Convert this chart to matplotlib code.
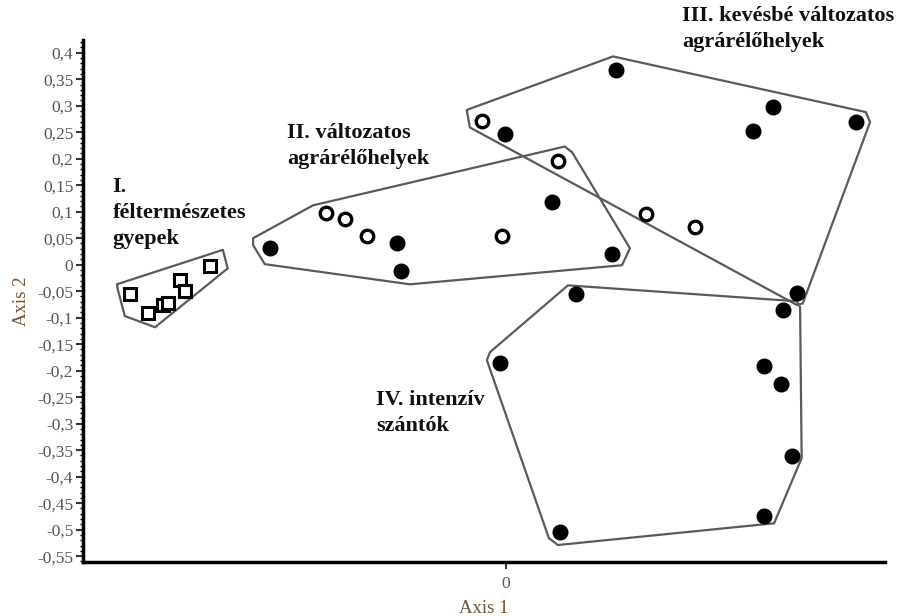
import numpy as np
import matplotlib
matplotlib.use("Agg")
import matplotlib.pyplot as plt
from matplotlib.ticker import MultipleLocator, FuncFormatter

# group I - squares
sq_x = [-0.709, -0.676, -0.647, -0.637, -0.615, -0.606, -0.558]
sq_y = [-0.056, -0.092, -0.077, -0.073, -0.029, -0.050, -0.002]

# open circles
oc_x = [-0.340, -0.304, -0.263, -0.008, 0.099, -0.046, 0.264, 0.357]
oc_y = [0.098, 0.087, 0.054, 0.054, 0.196, 0.272, 0.095, 0.071]

# filled circles
fc_x = [-0.445, -0.206, -0.198, 0.086, 0.201, -0.002, 0.208, 0.504, 0.467, 0.660,
        0.133, 0.550, 0.522, -0.011, 0.487, 0.519, 0.539, 0.487, 0.102]
fc_y = [0.031, 0.041, -0.012, 0.118, 0.021, 0.246, 0.367, 0.298, 0.252, 0.269,
        -0.056, -0.054, -0.085, -0.185, -0.191, -0.226, -0.361, -0.474, -0.505]

# group envelopes
hull1_x = [-0.734, -0.534, -0.525, -0.662, -0.719, -0.732]
hull1_y = [-0.037, 0.028, -0.007, -0.118, -0.097, -0.048]
hull2_x = [-0.477, -0.364, 0.111, 0.125, 0.234, 0.219, -0.181, -0.455, -0.477]
hull2_y = [0.050, 0.112, 0.223, 0.212, 0.031, -0.001, -0.037, 0.001, 0.037]
hull3_x = [-0.074, 0.202, 0.679, 0.687, 0.560, 0.549, -0.068]
hull3_y = [0.292, 0.393, 0.288, 0.269, -0.073, -0.076, 0.259]
hull4_x = [-0.030, 0.117, 0.549, 0.555, 0.558, 0.506, 0.098, 0.081, -0.036]
hull4_y = [-0.165, -0.039, -0.069, -0.080, -0.365, -0.488, -0.529, -0.516, -0.180]

group_labels = ["I.\nféltermészetes\ngyepek",
                "II. változatos\nagrárélőhelyek",
                "III. kevésbé változatos\nagrárélőhelyek",
                "IV. intenzív\nszántók"]
label_x = [-0.742, -0.413, 0.332, -0.245]
label_y = [0.166, 0.268, 0.489, -0.236]

fig = plt.figure(figsize=(8.99, 6.16), dpi=100)
ax = fig.add_axes([0.0923, 0.0877, 0.892, 0.847])

for hx, hy in [(hull1_x, hull1_y), (hull2_x, hull2_y), (hull3_x, hull3_y), (hull4_x, hull4_y)]:
    ax.fill(hx, hy, facecolor="none", edgecolor="#5a5a5a", linewidth=1.6, joinstyle="round")

ax.plot(sq_x, sq_y, "s", ms=8.5, mfc="white", mec="black", mew=2.2, ls="none")
ax.plot(oc_x, oc_y, "o", ms=9, mfc="white", mec="black", mew=2.4, ls="none")
ax.plot(fc_x, fc_y, "o", ms=10.5, mfc="black", mec="black", ls="none")

for t, x, y in zip(group_labels, label_x, label_y):
    ax.text(x, y, t, fontsize=16, fontweight="bold", family="Liberation Serif",
            va="top", ha="left", linespacing=1.42, color="#111111")

ax.set_xlim(-0.798, 0.715)
ax.set_ylim(-0.561, 0.4236)

ax.set_xticks([0])
ax.yaxis.set_major_locator(MultipleLocator(0.05))
ax.yaxis.set_minor_locator(MultipleLocator(0.01))
ax.yaxis.set_major_formatter(FuncFormatter(
    lambda v, p: ("%g" % round(v, 2)).replace(".", ",") if abs(v) > 1e-9 else "0"))
ax.xaxis.set_major_formatter(FuncFormatter(lambda v, p: "0"))

for s in ["top", "right"]:
    ax.spines[s].set_visible(False)
for s in ["left", "bottom"]:
    ax.spines[s].set_linewidth(2.5)
ax.tick_params(axis="both", which="major", length=5, width=1.5, colors="#333333",
               labelsize=12.5, labelcolor="#555555", pad=2)
ax.tick_params(axis="x", which="major", pad=5)
ax.tick_params(axis="y", which="minor", length=2.5, width=1)
for lab in ax.get_yticklabels() + ax.get_xticklabels():
    lab.set_family("Liberation Serif")

ax.set_xlabel("Axis 1", family="Liberation Serif", fontsize=13.5, color="#7a5230", labelpad=6)
ax.set_ylabel("Axis 2", family="Liberation Serif", fontsize=13.5, color="#7a5230", labelpad=5)

fig.savefig("out.png", dpi=100)
